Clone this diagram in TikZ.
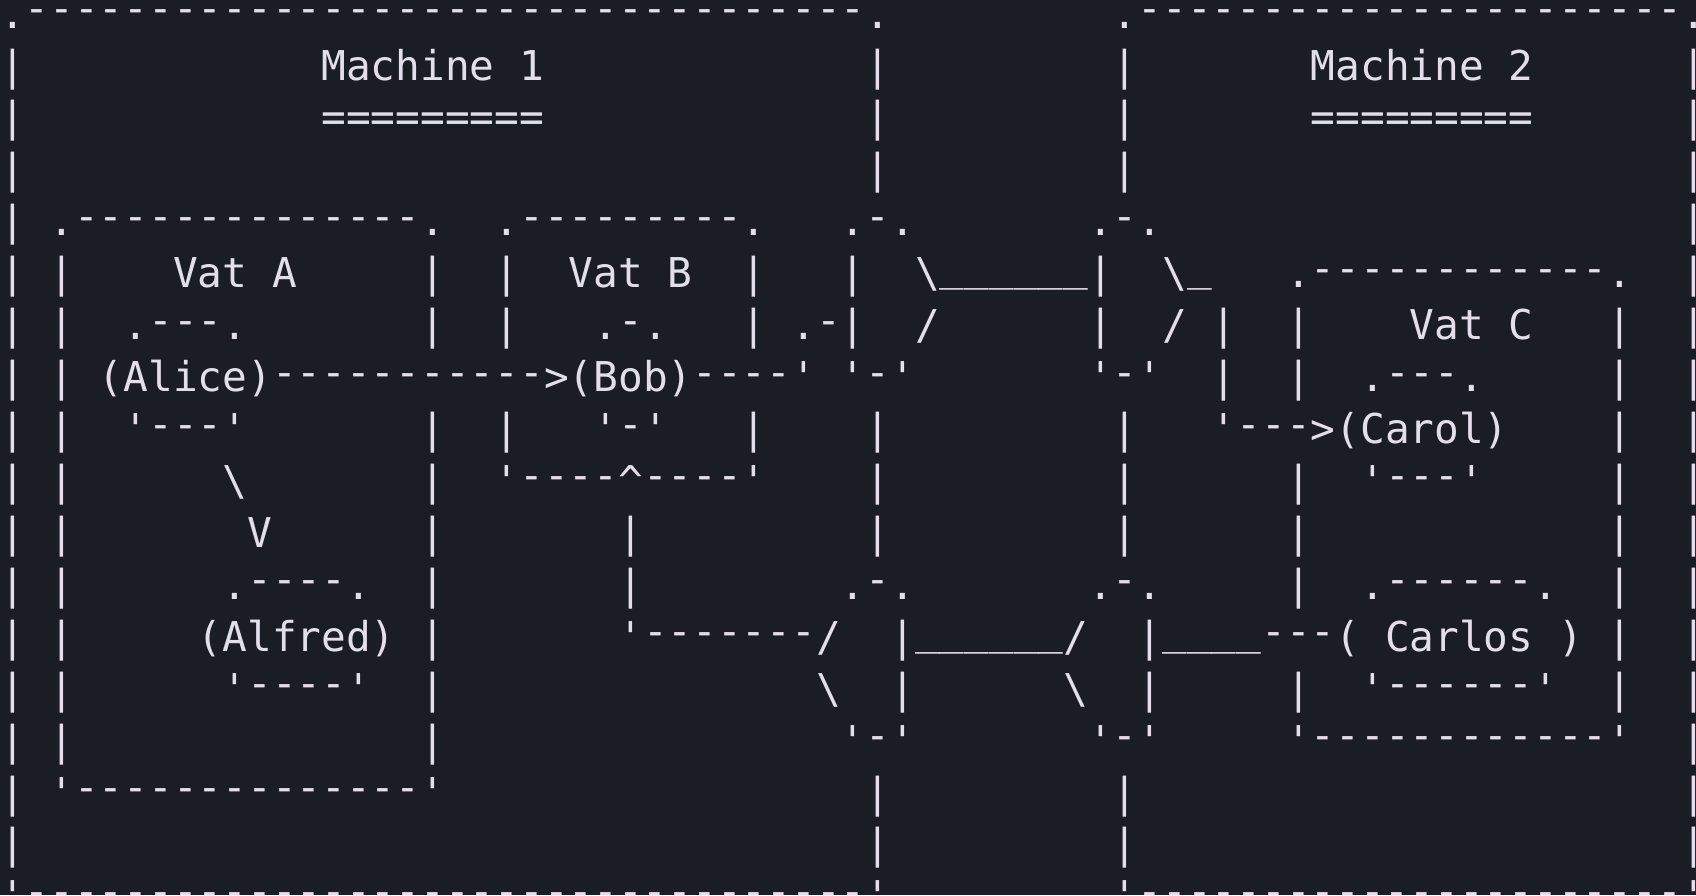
\documentclass[tikz,border=0pt]{standalone}
\usepackage{fontspec}
\usepackage{xcolor}
\usepackage{tikz}

\newfontfamily\vatmono{DejaVu Sans Mono}
\definecolor{bgdark}{RGB}{27,29,36}
\definecolor{inkgrey}{RGB}{226,223,234}

% repeat a character n times
\ExplSyntaxOn
\NewDocumentCommand\rpt{mm}{\prg_replicate:nn{#1}{#2}}
\ExplSyntaxOff
% dash and underscore sit a little higher than in DejaVu
\newcommand\hy{\raisebox{2.75pt}{-}}
\newcommand\us{\raisebox{3.5pt}{\_}}

\tikzset{
  asciirow/.style={anchor=base west, inner sep=0pt, outer sep=0pt,
    text=inkgrey, font=\vatmono\fontsize{20.54}{25.7}\selectfont\frenchspacing}
}

\begin{document}
\begin{tikzpicture}[x=0.5pt,y=0.5pt]
            % Background
            \useasboundingbox (0,0) rectangle (1696,895);
            \fill[bgdark] (0,0) rectangle (1696,895);

            % Machine frames and headings
            \node[asciirow] (row0) at (0,866.9) {.\rpt{34}{\hy}.\rpt{9}{~}.\rpt{22}{\hy}.};
            \node[asciirow] (row1) at (0,814.97) {|\rpt{12}{~}Machine~1\rpt{13}{~}|\rpt{9}{~}|\rpt{7}{~}Machine~2\rpt{6}{~}|};
            \node[asciirow] (row2) at (0,763.04) {|\rpt{12}{~}\rpt{9}{=}\rpt{13}{~}|\rpt{9}{~}|\rpt{7}{~}\rpt{9}{=}\rpt{6}{~}|};
            \node[asciirow] (row3) at (0,711.11) {|\rpt{34}{~}|\rpt{9}{~}|\rpt{22}{~}|};

            % Vats A and B, upper ports, Vat C
            \node[asciirow] (row4) at (0,659.18) {|~.\rpt{14}{\hy}.~~.\rpt{9}{\hy}.~~~.\hy.\rpt{7}{~}.\hy.\rpt{21}{~}|};
            \node[asciirow] (row5) at (0,607.25) {|~|~~~~Vat~A~~~~~|~~|~~Vat~B~~|~~~|~~\textbackslash\rpt{6}{\us}|~~\textbackslash\us~~~.\rpt{12}{\hy}.~~|};
            \node[asciirow] (row6) at (0,555.32) {|~|~~.\rpt{3}{\hy}.\rpt{7}{~}|~~|~~~.\hy.~~~|~.\hy|~~/\rpt{6}{~}|~~/~|~~|~~~~Vat~C~~~|~~|};
            \node[asciirow] (row7) at (0,503.39) {|~|~(Alice)\rpt{11}{\hy}>(Bob)\rpt{4}{\hy}'~'\hy'\rpt{7}{~}'\hy'~~|~~|~~.\rpt{3}{\hy}.\rpt{5}{~}|~~|};
            \node[asciirow] (row8) at (0,451.46) {|~|~~'\rpt{3}{\hy}'\rpt{7}{~}|~~|~~~'\hy'~~~|~~~~|\rpt{9}{~}|~~~'\rpt{3}{\hy}>(Carol)~~~~|~~|};
            \node[asciirow] (row9) at (0,399.53) {|~|\rpt{6}{~}\textbackslash\rpt{7}{~}|~~'\rpt{4}{\hy}\textasciicircum\rpt{4}{\hy}'~~~~|\rpt{9}{~}|\rpt{6}{~}|~~'\rpt{3}{\hy}'\rpt{5}{~}|~~|};
            \node[asciirow] (row10) at (0,347.6) {|~|\rpt{7}{~}V\rpt{6}{~}|\rpt{7}{~}|\rpt{9}{~}|\rpt{9}{~}|\rpt{6}{~}|\rpt{12}{~}|~~|};

            % Lower ports, Alfred and Carlos
            \node[asciirow] (row11) at (0,295.67) {|~|\rpt{6}{~}.\rpt{4}{\hy}.~~|\rpt{7}{~}|\rpt{8}{~}.\hy.\rpt{7}{~}.\hy.\rpt{5}{~}|~~.\rpt{6}{\hy}.~~|~~|};
            \node[asciirow] (row12) at (0,243.74) {|~|\rpt{5}{~}(Alfred)~|\rpt{7}{~}'\rpt{7}{\hy}/~~|\rpt{6}{\us}/~~|\rpt{4}{\us}\rpt{3}{\hy}(~Carlos~)~|~~|};
            \node[asciirow] (row13) at (0,191.81) {|~|\rpt{6}{~}'\rpt{4}{\hy}'~~|\rpt{15}{~}\textbackslash~~|\rpt{6}{~}\textbackslash~~|\rpt{5}{~}|~~'\rpt{6}{\hy}'~~|~~|};
            \node[asciirow] (row14) at (0,139.88) {|~|\rpt{14}{~}|\rpt{16}{~}'\hy'\rpt{7}{~}'\hy'\rpt{5}{~}'\rpt{12}{\hy}'~~|};
            \node[asciirow] (row15) at (0,87.95) {|~'\rpt{14}{\hy}'\rpt{17}{~}|\rpt{9}{~}|\rpt{22}{~}|};
            \node[asciirow] (row16) at (0,36.02) {|\rpt{34}{~}|\rpt{9}{~}|\rpt{22}{~}|};
            \node[asciirow] (row17) at (0,-15.91) {'\rpt{34}{\hy}'\rpt{9}{~}'\rpt{22}{\hy}'};
\end{tikzpicture}
\end{document}
